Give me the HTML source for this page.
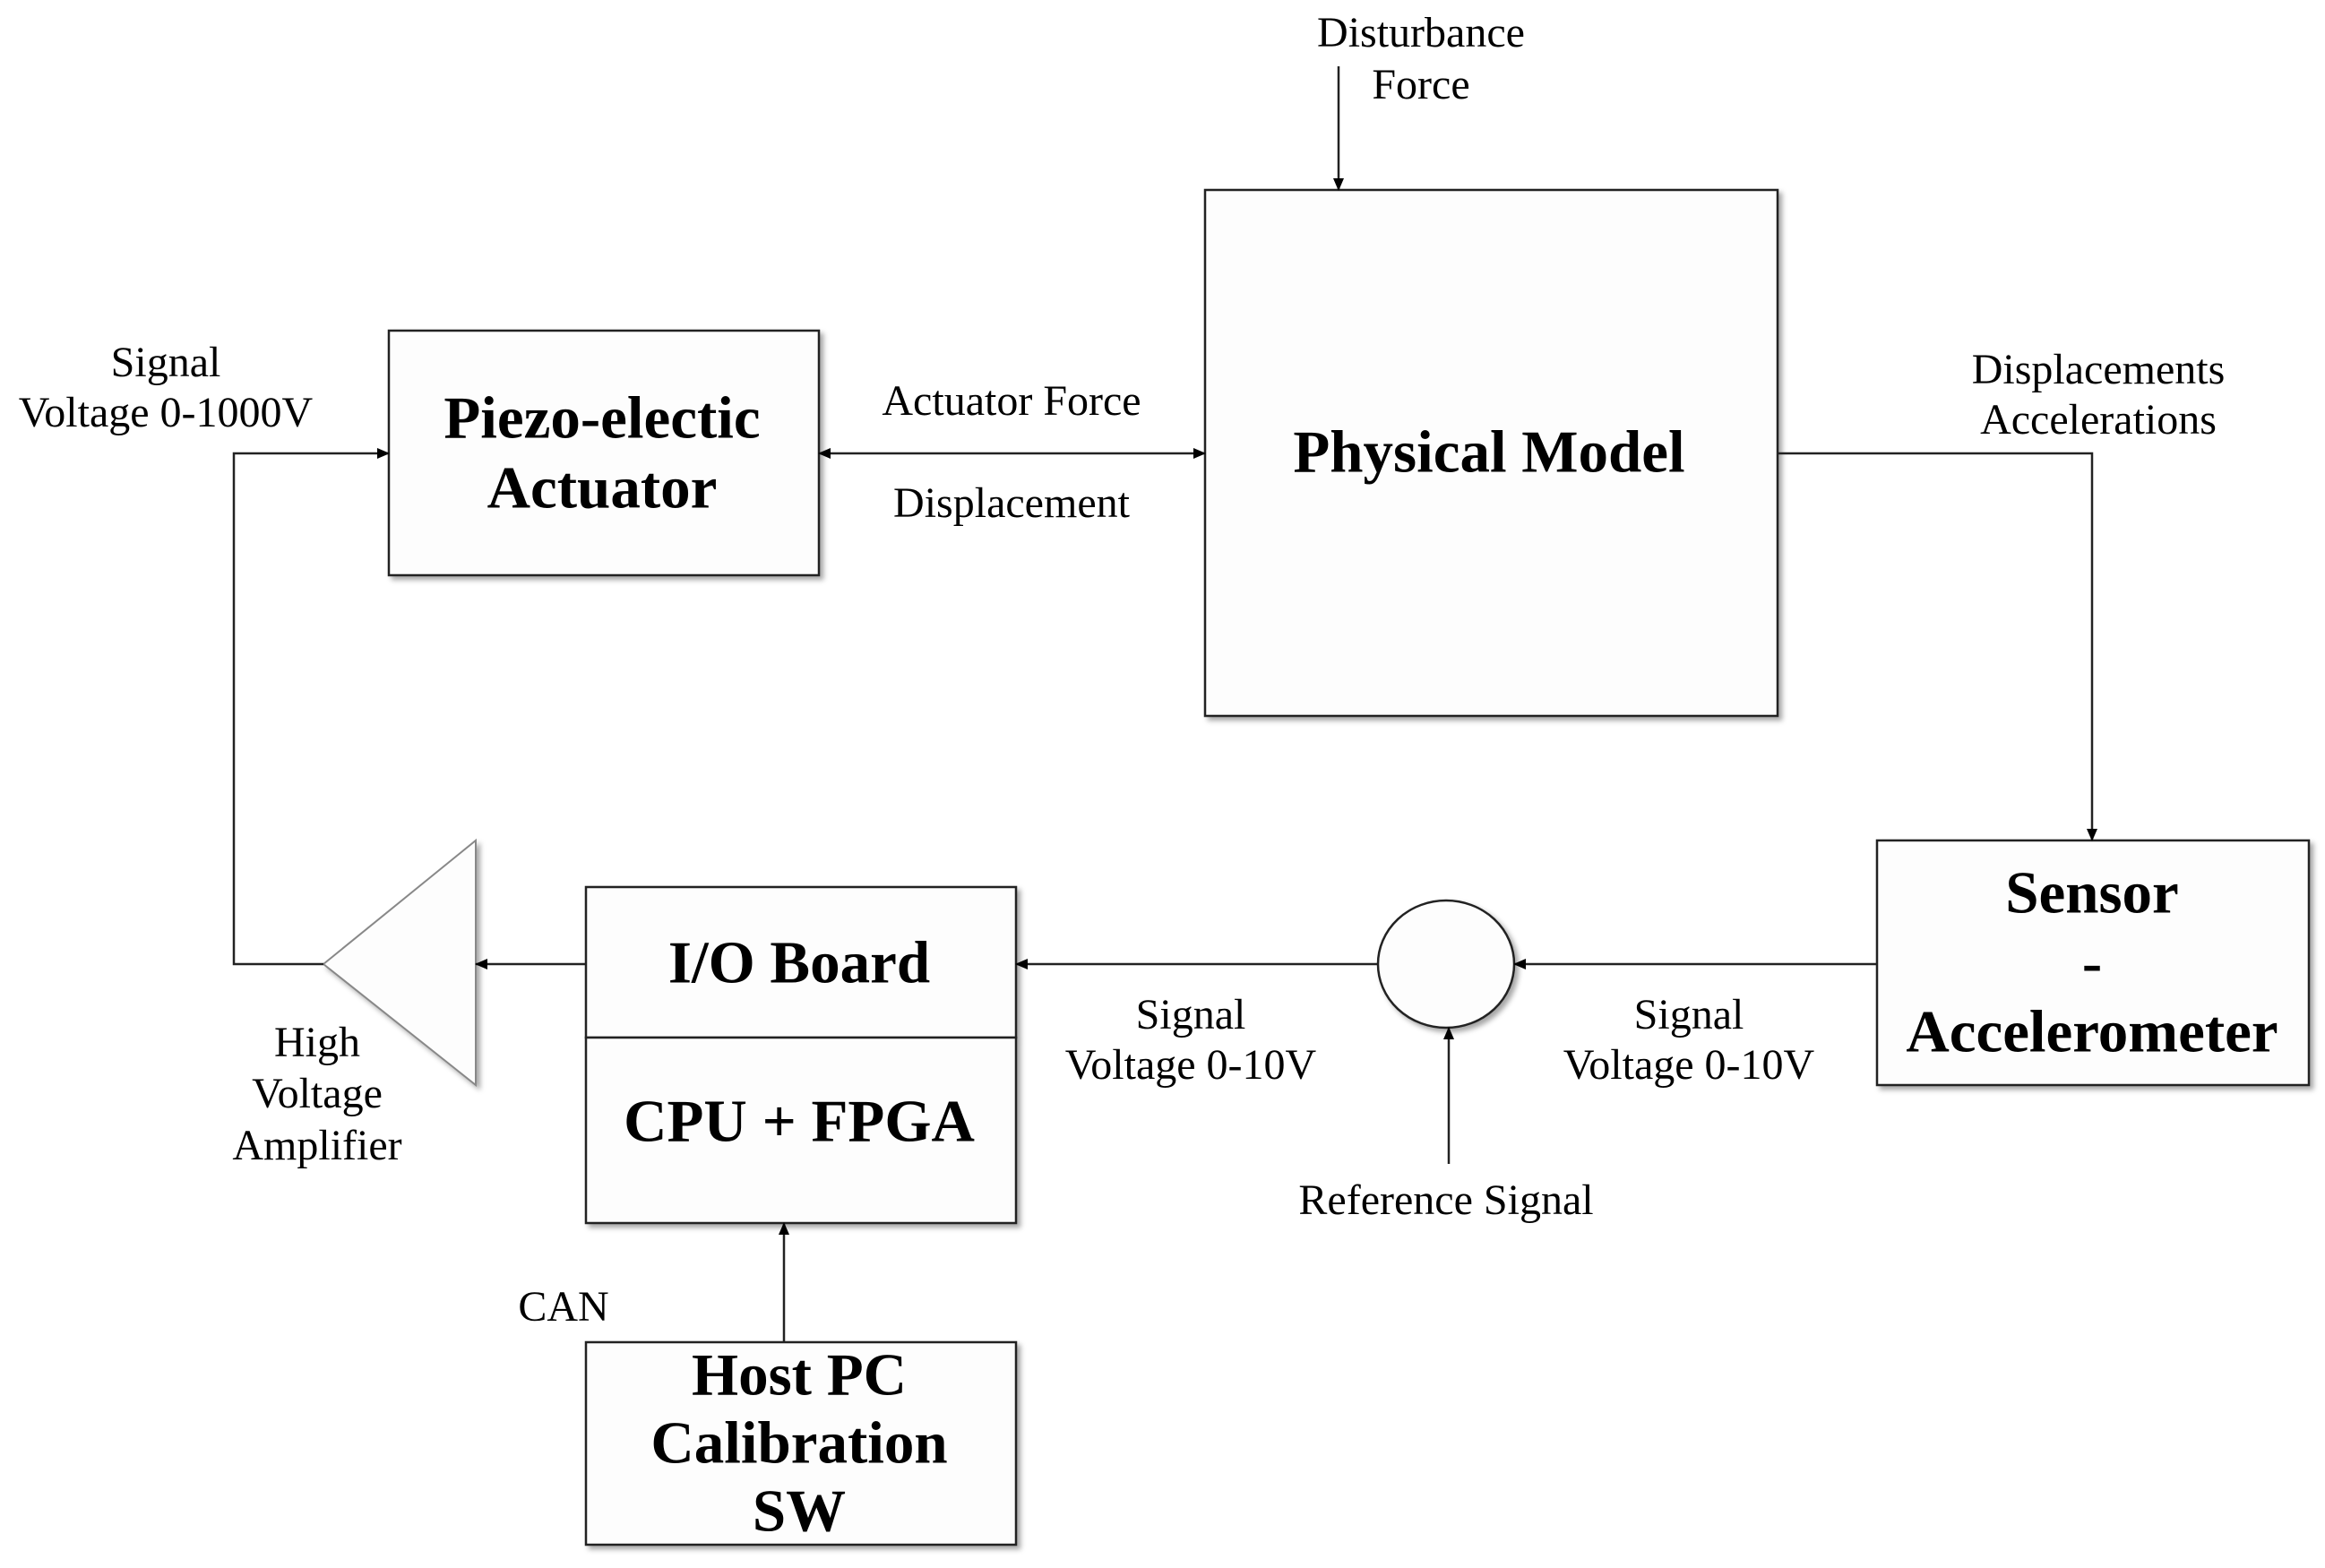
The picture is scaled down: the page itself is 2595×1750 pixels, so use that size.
<!DOCTYPE html>
<html><head><meta charset="utf-8"><style>html,body{margin:0;padding:0;background:#fff}</style></head>
<body>
<svg width="2595" height="1745" viewBox="0 0 2595 1745" xmlns="http://www.w3.org/2000/svg">
<defs>
<marker id="a" markerWidth="14" markerHeight="12" refX="13" refY="6" orient="auto" markerUnits="userSpaceOnUse"><path d="M0,0 L14,6 L0,12 z" fill="#000"/></marker>
<marker id="as" markerWidth="14" markerHeight="12" refX="1" refY="6" orient="auto" markerUnits="userSpaceOnUse"><path d="M14,0 L0,6 L14,12 z" fill="#000"/></marker>
<filter id="sh" x="-5%" y="-5%" width="115%" height="115%"><feDropShadow dx="4" dy="4" stdDeviation="3" flood-color="#000" flood-opacity="0.35"/></filter>
</defs>
<g fill="#fdfdfd" stroke="#222" stroke-width="2.5" filter="url(#sh)">
<rect x="434" y="369" width="480" height="273"/>
<rect x="1345" y="212" width="639" height="587"/>
<rect x="2095" y="938" width="482" height="273"/>
<rect x="654" y="990" width="480" height="168"/>
<rect x="654" y="1158" width="480" height="207"/>
<rect x="654" y="1498" width="480" height="226"/>
<ellipse cx="1614" cy="1076" rx="76" ry="71"/>
<polygon points="361,1076 531,938 531,1211" stroke="#888" stroke-width="2"/>
</g>
<g stroke="#222" stroke-width="2.5" fill="none">
<polyline points="361,1076 261,1076 261,506 434,506" marker-end="url(#a)"/>
<line x1="914" y1="506" x2="1345" y2="506" marker-start="url(#as)" marker-end="url(#a)"/>
<line x1="1494" y1="74" x2="1494" y2="212" marker-end="url(#a)"/>
<polyline points="1984,506 2335,506 2335,938" marker-end="url(#a)"/>
<line x1="2095" y1="1076" x2="1690" y2="1076" marker-end="url(#a)"/>
<line x1="1538" y1="1076" x2="1134" y2="1076" marker-end="url(#a)"/>
<line x1="654" y1="1076" x2="531" y2="1076" marker-end="url(#a)"/>
<line x1="1617" y1="1299" x2="1617" y2="1147" marker-end="url(#a)"/>
<line x1="875" y1="1498" x2="875" y2="1365" marker-end="url(#a)"/>
</g>
<g font-family="'Liberation Serif',serif" font-size="48" text-anchor="middle" dominant-baseline="middle" fill="#000">
<text x="1586" y="41">Disturbance</text><text x="1586" y="99">Force</text>
<text x="185" y="409">Signal</text><text x="185" y="465">Voltage 0-1000V</text>
<text x="1129" y="452">Actuator Force</text><text x="1129" y="566">Displacement</text>
<text x="2342" y="417">Displacements</text><text x="2342" y="473">Accelerations</text>
<text x="1329" y="1137">Signal</text><text x="1329" y="1193">Voltage 0-10V</text>
<text x="1885" y="1137">Signal</text><text x="1885" y="1193">Voltage 0-10V</text>
<text x="1614" y="1344">Reference Signal</text>
<text x="354" y="1168">High</text><text x="354" y="1225">Voltage</text><text x="354" y="1283">Amplifier</text>
<text x="629" y="1463">CAN</text>
</g>
<g font-family="'Liberation Serif',serif" font-size="67" font-weight="bold" text-anchor="middle" dominant-baseline="middle" fill="#000">
<text x="672" y="473">Piezo-electic</text><text x="672" y="551">Actuator</text>
<text x="1662" y="511">Physical Model</text>
<text x="2335" y="1003">Sensor</text><text x="2335" y="1081">-</text><text x="2335" y="1158">Accelerometer</text>
<text x="892" y="1081">I/O Board</text>
<text x="892" y="1258">CPU + FPGA</text>
<text x="892" y="1541">Host PC</text><text x="892" y="1617">Calibration</text><text x="892" y="1693">SW</text>
</g>
</svg>
</body></html>
